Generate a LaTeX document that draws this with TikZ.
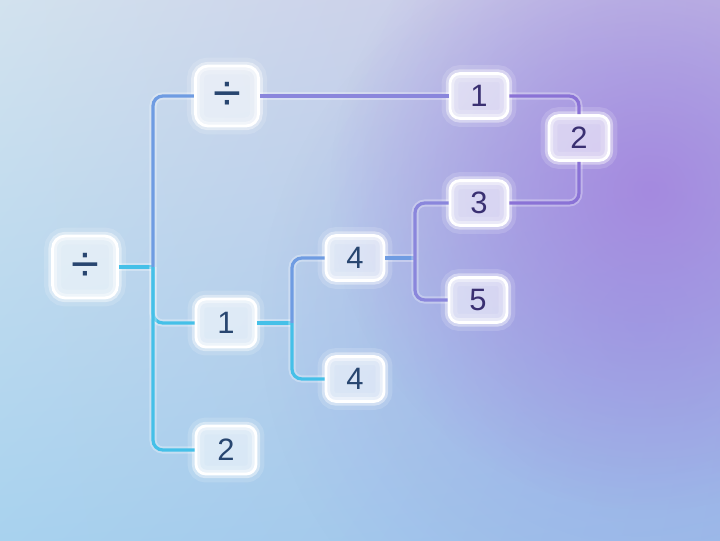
\documentclass[tikz,border=0pt]{standalone}
\usepackage{fontspec}
\setmainfont{Liberation Sans}
\usepackage{tikz}
\usetikzlibrary{fadings, shadings}
\definecolor{inkblue}{HTML}{284670}
\definecolor{inkpurple}{HTML}{3A3072}
\definecolor{linkcyan}{HTML}{45C0E8}
\definecolor{linkblue}{HTML}{6F9CE2}
\definecolor{linkviolet}{HTML}{8A86DC}
\definecolor{linkpurple}{HTML}{8A72D6}
\definecolor{bgtl}{RGB}{210,226,238}
\definecolor{bgtr}{RGB}{198,194,230}
\definecolor{bgbl}{RGB}{168,210,238}
\definecolor{bgbr}{RGB}{160,192,234}
\definecolor{glowpurple}{RGB}{164,130,222}
\definecolor{glowblue}{RGB}{140,156,228}
\tikzfading[name=softglow, inner color=transparent!0, outer color=transparent!100]
\tikzstyle{numbox} = [rectangle, rounded corners=7pt, minimum width=1.45cm, minimum height=1.12cm, inner sep=0pt, text centered, draw=white, line width=2pt, fill=white, fill opacity=0.55, text opacity=1, text=inkblue, font=\fontsize{22}{24}\selectfont, preaction={draw=white, line width=12pt, opacity=0.15}, preaction={draw=white, line width=6pt, opacity=0.4}]
\tikzstyle{widebox} = [numbox, minimum width=1.5cm, minimum height=1.2cm]
\tikzstyle{opbox} = [numbox, minimum width=1.62cm, minimum height=1.55cm, rounded corners=9pt, font=\fontsize{36}{38}\selectfont]
\tikzstyle{link} = [line width=2.3pt, rounded corners=7pt, preaction={draw=white, line width=5pt, opacity=0.3}]

\begin{document}
\begin{tikzpicture}[x=0.025cm, y=-0.025cm]

        % background
        \useasboundingbox (0,0) rectangle (720,540);
        \shade [upper left=bgtl, upper right=bgtr, lower left=bgbl, lower right=bgbr] (0,0) rectangle (720,540);
        \fill [glowblue, path fading=softglow, opacity=0.55] (640,320) circle (380);
        \fill [glowpurple, path fading=softglow, opacity=0.85] (650,190) circle (320);

        \node (root) [opbox] at (85,267) {÷};
        \node (divtop) [opbox, minimum width=1.58cm, minimum height=1.5cm] at (227,96) {÷};
        \node (one) [numbox, text=inkpurple] at (479,96) {1};
        \node (two) [numbox, text=inkpurple, minimum width=1.5cm] at (579,138) {2};
        \node (three) [numbox, text=inkpurple] at (479,203) {3};
        \node (fourA) [numbox] at (355,258) {4};
        \node (five) [numbox, text=inkpurple] at (478,300) {5};
        \node (oneM) [widebox] at (226,323) {1};
        \node (fourB) [numbox] at (355,379) {4};
        \node (twoB) [widebox] at (226,450) {2};

        \coordinate (j1) at (153,267);
        \coordinate (j2) at (292,323);
        \coordinate (j3) at (415,258);

        \draw [link, linkcyan] (root) -- (j1);
        \draw [link, linkblue] (j1) |- (divtop);
        \draw [link, linkcyan] (j1) |- (oneM);
        \draw [link, linkcyan] (j1) |- (twoB);
        \draw [link, linkcyan] (oneM) -- (j2);
        \draw [link, linkblue] (j2) |- (fourA);
        \draw [link, linkcyan] (j2) |- (fourB);
        \draw [link, linkblue] (fourA) -- (j3);
        \draw [link, linkviolet] (j3) |- (three);
        \draw [link, linkviolet] (j3) |- (five);
        \draw [link, linkviolet] (divtop) -- (one);
        \draw [link, linkpurple] (one) -| (two);
        \draw [link, linkpurple] (two) |- (three);

    \end{tikzpicture}
\end{document}
